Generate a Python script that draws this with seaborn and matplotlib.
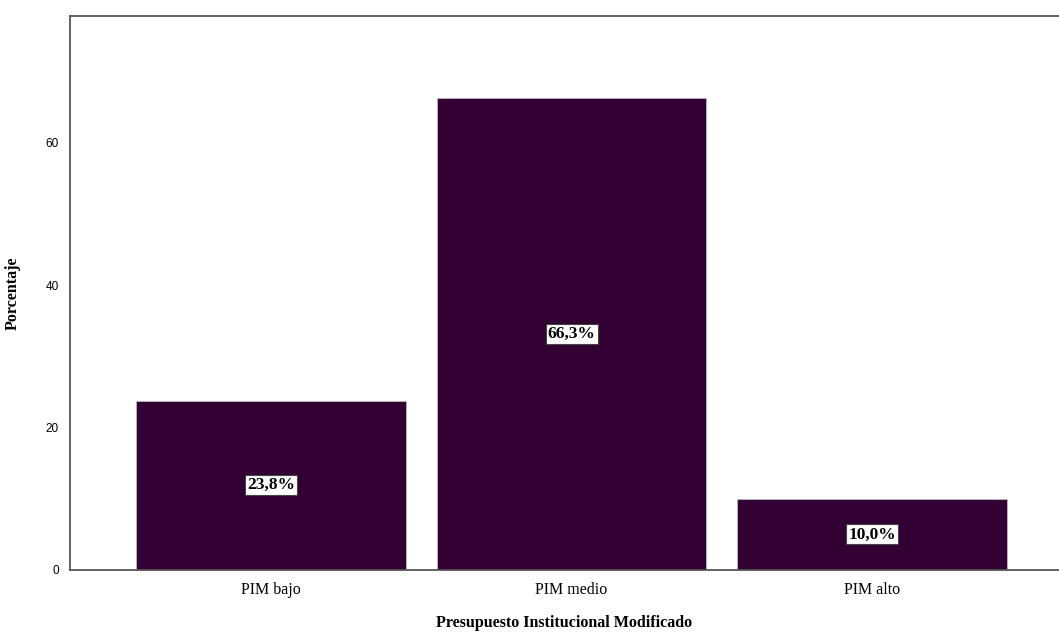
import matplotlib
matplotlib.use('Agg')
import matplotlib.pyplot as plt
import seaborn as sns
import pandas as pd

# datos
categorias = ['PIM bajo', 'PIM medio', 'PIM alto']
porcentajes = [23.8, 66.3, 10.0]
ticks_y = [0, 20, 40, 60]

df = pd.DataFrame({'cat': categorias, 'pct': porcentajes})

sns.set_style('white')
plt.rcParams['font.family'] = ['Liberation Serif', 'DejaVu Serif']
plt.rcParams['text.color'] = 'black'
plt.rcParams['axes.labelcolor'] = 'black'
plt.rcParams['xtick.color'] = 'black'
plt.rcParams['ytick.color'] = 'black'

fig = plt.figure(figsize=(10.59, 6.35), dpi=100)
ax = fig.add_axes([70 / 1059, 65 / 635, 1 - 70 / 1059, (570 - 16) / 635])

sns.barplot(data=df, x='cat', y='pct', ax=ax, color='#330033', saturation=1,
            width=0.897, edgecolor='#bbbbbb', linewidth=0.6)

for i, v in enumerate(porcentajes):
    ax.text(i, v / 2, f'{v:.1f}%'.replace('.', ','), ha='center', va='center',
            fontsize=12.5, fontweight='bold', color='black',
            bbox=dict(boxstyle='square,pad=0.12', fc='white', ec='#444444', lw=0.8))

ax.set_xlim(-0.668, 2.621)
ax.set_ylim(0, 77.8)
ax.set_yticks(ticks_y)
ax.set_yticklabels([str(t) for t in ticks_y], family='Liberation Sans', fontsize=8.5)
ax.tick_params(axis='y', length=0, pad=8)
ax.tick_params(axis='x', length=0, pad=9)
for lbl in ax.get_xticklabels():
    lbl.set_fontsize(11.5)
ax.set_xlabel('Presupuesto Institucional Modificado', fontsize=11.5, fontweight='bold', labelpad=12)
ax.set_ylabel('Porcentaje', fontsize=11.5, fontweight='bold', labelpad=18)

for s in ['left', 'bottom', 'top']:
    ax.spines[s].set_color('#555555')
    ax.spines[s].set_linewidth(1.3)
ax.spines['right'].set_visible(False)

fig.savefig('out.png', dpi=100)
